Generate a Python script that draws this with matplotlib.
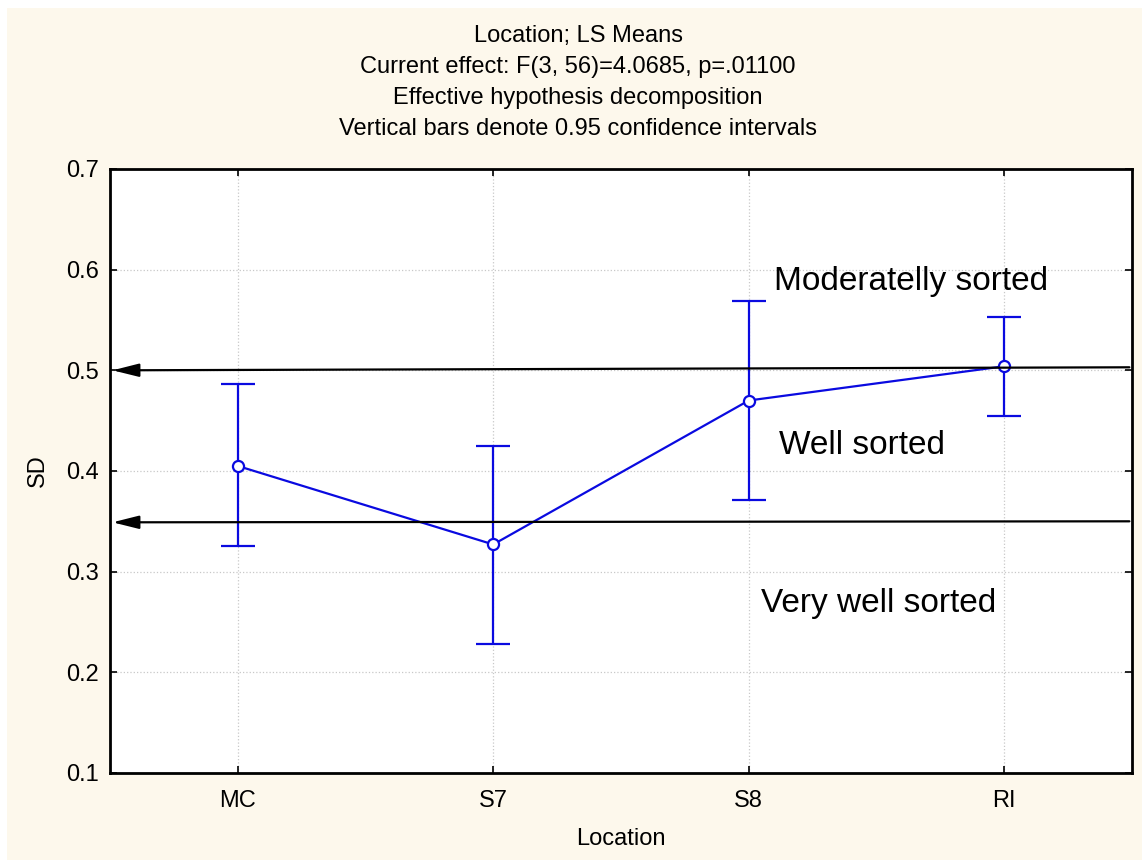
import numpy as np
import matplotlib.pyplot as plt
from matplotlib.patches import Rectangle

plt.rcParams['font.family'] = ['Liberation Sans', 'DejaVu Sans']

# LS means of sorting (SD) per location with 0.95 confidence limits
locations = ['MC', 'S7', 'S8', 'RI']
means = np.array([0.405, 0.327, 0.470, 0.504])
ci_low = np.array([0.325, 0.228, 0.371, 0.455])
ci_high = np.array([0.486, 0.425, 0.569, 0.553])

# sorting class boundaries (drawn as hand-placed arrows)
bound_upper = (0.500, 0.503)
bound_lower = (0.349, 0.350)
class_labels = ['Moderatelly sorted', 'Well sorted', 'Very well sorted']
class_label_pos = [(2.10, 0.588), (2.12, 0.425), (2.05, 0.268)]

title_lines = ['Location; LS Means',
               'Current effect: F(3, 56)=4.0685, p=.01100',
               'Effective hypothesis decomposition',
               'Vertical bars denote 0.95 confidence intervals']

fig = plt.figure(figsize=(11.42, 8.6), dpi=100, facecolor='white')
fig.patches.append(Rectangle((7 / 1142, 0), 1, 852 / 860, transform=fig.transFigure,
                             facecolor='#fdf8ec', edgecolor='none', zorder=-10))

ax = fig.add_axes([0.0963, 0.1012, 0.8949, 0.7023])
ax.set_facecolor('white')

x = np.arange(len(locations))
ax.errorbar(x, means, yerr=[means - ci_low, ci_high - means],
            color='#0a0ae0', lw=1.6, elinewidth=1.6, capsize=12, capthick=1.6,
            marker='o', ms=8, mfc='white', mec='#0a0ae0', mew=1.6, zorder=3)

# class boundary arrows
for y0, y1 in [bound_upper, bound_lower]:
    ax.annotate('', xy=(-0.49, y0), xytext=(3.49, y1),
                arrowprops=dict(arrowstyle='-|>,head_length=1.6,head_width=0.4',
                                color='black', lw=1.6, mutation_scale=10,
                                shrinkA=0, shrinkB=0), zorder=4)

for lab, (tx, ty) in zip(class_labels, class_label_pos):
    ax.text(tx, ty, lab, fontsize=24, va='center', ha='left')

ax.set_xlim(-0.5, 3.5)
ax.set_ylim(0.1, 0.7)
ax.set_xticks(x)
ax.set_xticklabels(locations)
ax.set_yticks(np.arange(0.1, 0.71, 0.1))
ax.set_yticklabels(['%.1f' % v for v in np.arange(0.1, 0.71, 0.1)])
ax.tick_params(direction='in', length=5, width=1.2, top=True, right=True,
               labelsize=17, pad=8, colors='black')
ax.tick_params(axis='x', pad=12)
ax.grid(True, linestyle=':', color='#c8c8c8', lw=0.9)
for s in ax.spines.values():
    s.set_linewidth(2)

ax.set_xlabel('Location', fontsize=17, labelpad=12)
ax.set_ylabel('SD', fontsize=17, labelpad=12)

for i, line in enumerate(title_lines):
    fig.text(578 / 1142, 1 - (36 + 31 * i) / 860, line, fontsize=17,
             ha='center', va='center')

fig.savefig('out.png', dpi=100, facecolor=fig.get_facecolor())
